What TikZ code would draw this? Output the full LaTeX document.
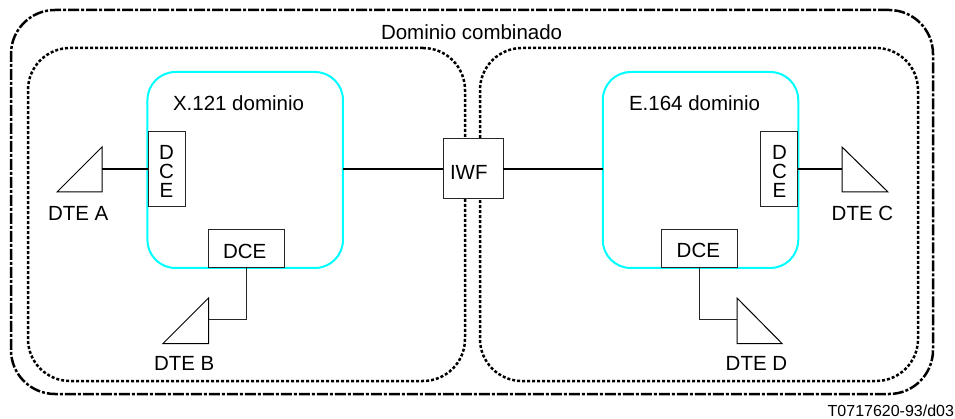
\documentclass[tikz,border=0pt]{standalone}
\usepackage{fontspec}
\setmainfont{Liberation Sans}
\usetikzlibrary{calc}
\definecolor{dcyan}{RGB}{0,255,255}
\tikzset{
  x=1pt,y=-1pt,
  outerbox/.style={draw=black,line width=2.5pt,rounded corners=44pt,dash pattern=on 11pt off 2pt on 3pt off 2pt,inner sep=0pt,outer sep=0pt},
  dotbox/.style={draw=black,line width=2.5pt,rounded corners=42pt,dash pattern=on 3pt off 2pt,inner sep=0pt,outer sep=0pt},
  cyanbox/.style={draw=dcyan,line width=2pt,rounded corners=28pt,inner sep=0pt,outer sep=0pt},
  unitbox/.style={draw=black!85,fill=white,line width=1pt,inner sep=0pt,outer sep=0pt},
  stacklbl/.style={inner sep=0pt,outer sep=0pt,font=\fontsize{20.5pt}{19pt}\selectfont,align=center},
  lbl/.style={anchor=base west,inner sep=0pt,outer sep=0pt,font=\fontsize{20.5pt}{24pt}\selectfont},
  wire/.style={draw=black,line width=1.5pt},
  thin wire/.style={draw=black!85,line width=1pt},
  termtri/.style={draw=black,line width=1pt,fill=white,line join=miter},
}
\begin{document}
\begin{tikzpicture}
\useasboundingbox (0,0) rectangle (955,419);
\node[outerbox,minimum width=922pt,minimum height=384pt] (outer) at (472,202) {};
\node[dotbox,minimum width=437pt,minimum height=333pt] (dotL) at (246.5,214.5) {};
\node[dotbox,minimum width=438pt,minimum height=333pt] (dotR) at (699,214.5) {};
\node[cyanbox,minimum width=195.5pt,minimum height=196pt] (x121) at (245.2,170) {};
\node[cyanbox,minimum width=195.5pt,minimum height=196pt] (e164) at (700.5,170) {};
\node[unitbox,minimum width=37pt,minimum height=75pt] (dceA) at (166.5,169.5) {};
\node[unitbox,minimum width=76pt,minimum height=38pt] (dceB) at (246.5,249) {};
\node[unitbox,minimum width=60pt,minimum height=60pt] (iwf) at (473,169) {};
\node[unitbox,minimum width=37.5pt,minimum height=75pt] (dceC) at (779.2,169.5) {};
\node[unitbox,minimum width=76pt,minimum height=38pt] (dceD) at (699,249) {};
% terminals
\draw[termtri] (57,192) -- (102,147) -- (102,192) -- cycle;
\draw[termtri] (163,343.5) -- (208.5,298) -- (208.5,343.5) -- cycle;
\draw[termtri] (842,147) -- (888,192) -- (842,192) -- cycle;
\draw[termtri] (737,298) -- (782,343.5) -- (737,343.5) -- cycle;
\coordinate (dteA) at (102,169);
\coordinate (dteB) at (208.5,320);
\coordinate (dteC) at (842,169);
\coordinate (dteD) at (737,320);
% connectors
\draw[wire] (dteA) -- (dceA.west |- dteA);
\draw[wire] (dceC.east |- dteC) -- (dteC);
\draw[wire] (x121.east |- iwf.west) -- (iwf.west);
\draw[wire] (iwf.east) -- (e164.west |- iwf.east);
\draw[thin wire] (dteB) -| (dceB.south);
\draw[thin wire] (dteD) -| (dceD.south);
% labels
\node[lbl] (t1) at (381,40) {Dominio combinado};
\node[lbl] (t2) at (173,111) {X.121 dominio};
\node[lbl] (t3) at (629,111) {E.164 dominio};
\node[lbl] (t4) at (48,221) {DTE A};
\node[lbl] (t5) at (154,370.7) {DTE B};
\node[lbl] (t6) at (831.7,221) {DTE C};
\node[lbl] (t7) at (725.7,370) {DTE D};
\node[lbl] (t9) at (223,259) {DCE};
\node[lbl] (t10) at (676.7,257.7) {DCE};
\node[lbl] (t11) at (450,180) {IWF};
\node[stacklbl] (t12) at (166.5,171) {D\\C\\E};
\node[stacklbl] (t13) at (779.5,171) {D\\C\\E};
\node[lbl,font=\fontsize{16pt}{18pt}\selectfont,anchor=base east] (t8) at (954,416) {T0717620-93/d03};
\end{tikzpicture}
\end{document}
